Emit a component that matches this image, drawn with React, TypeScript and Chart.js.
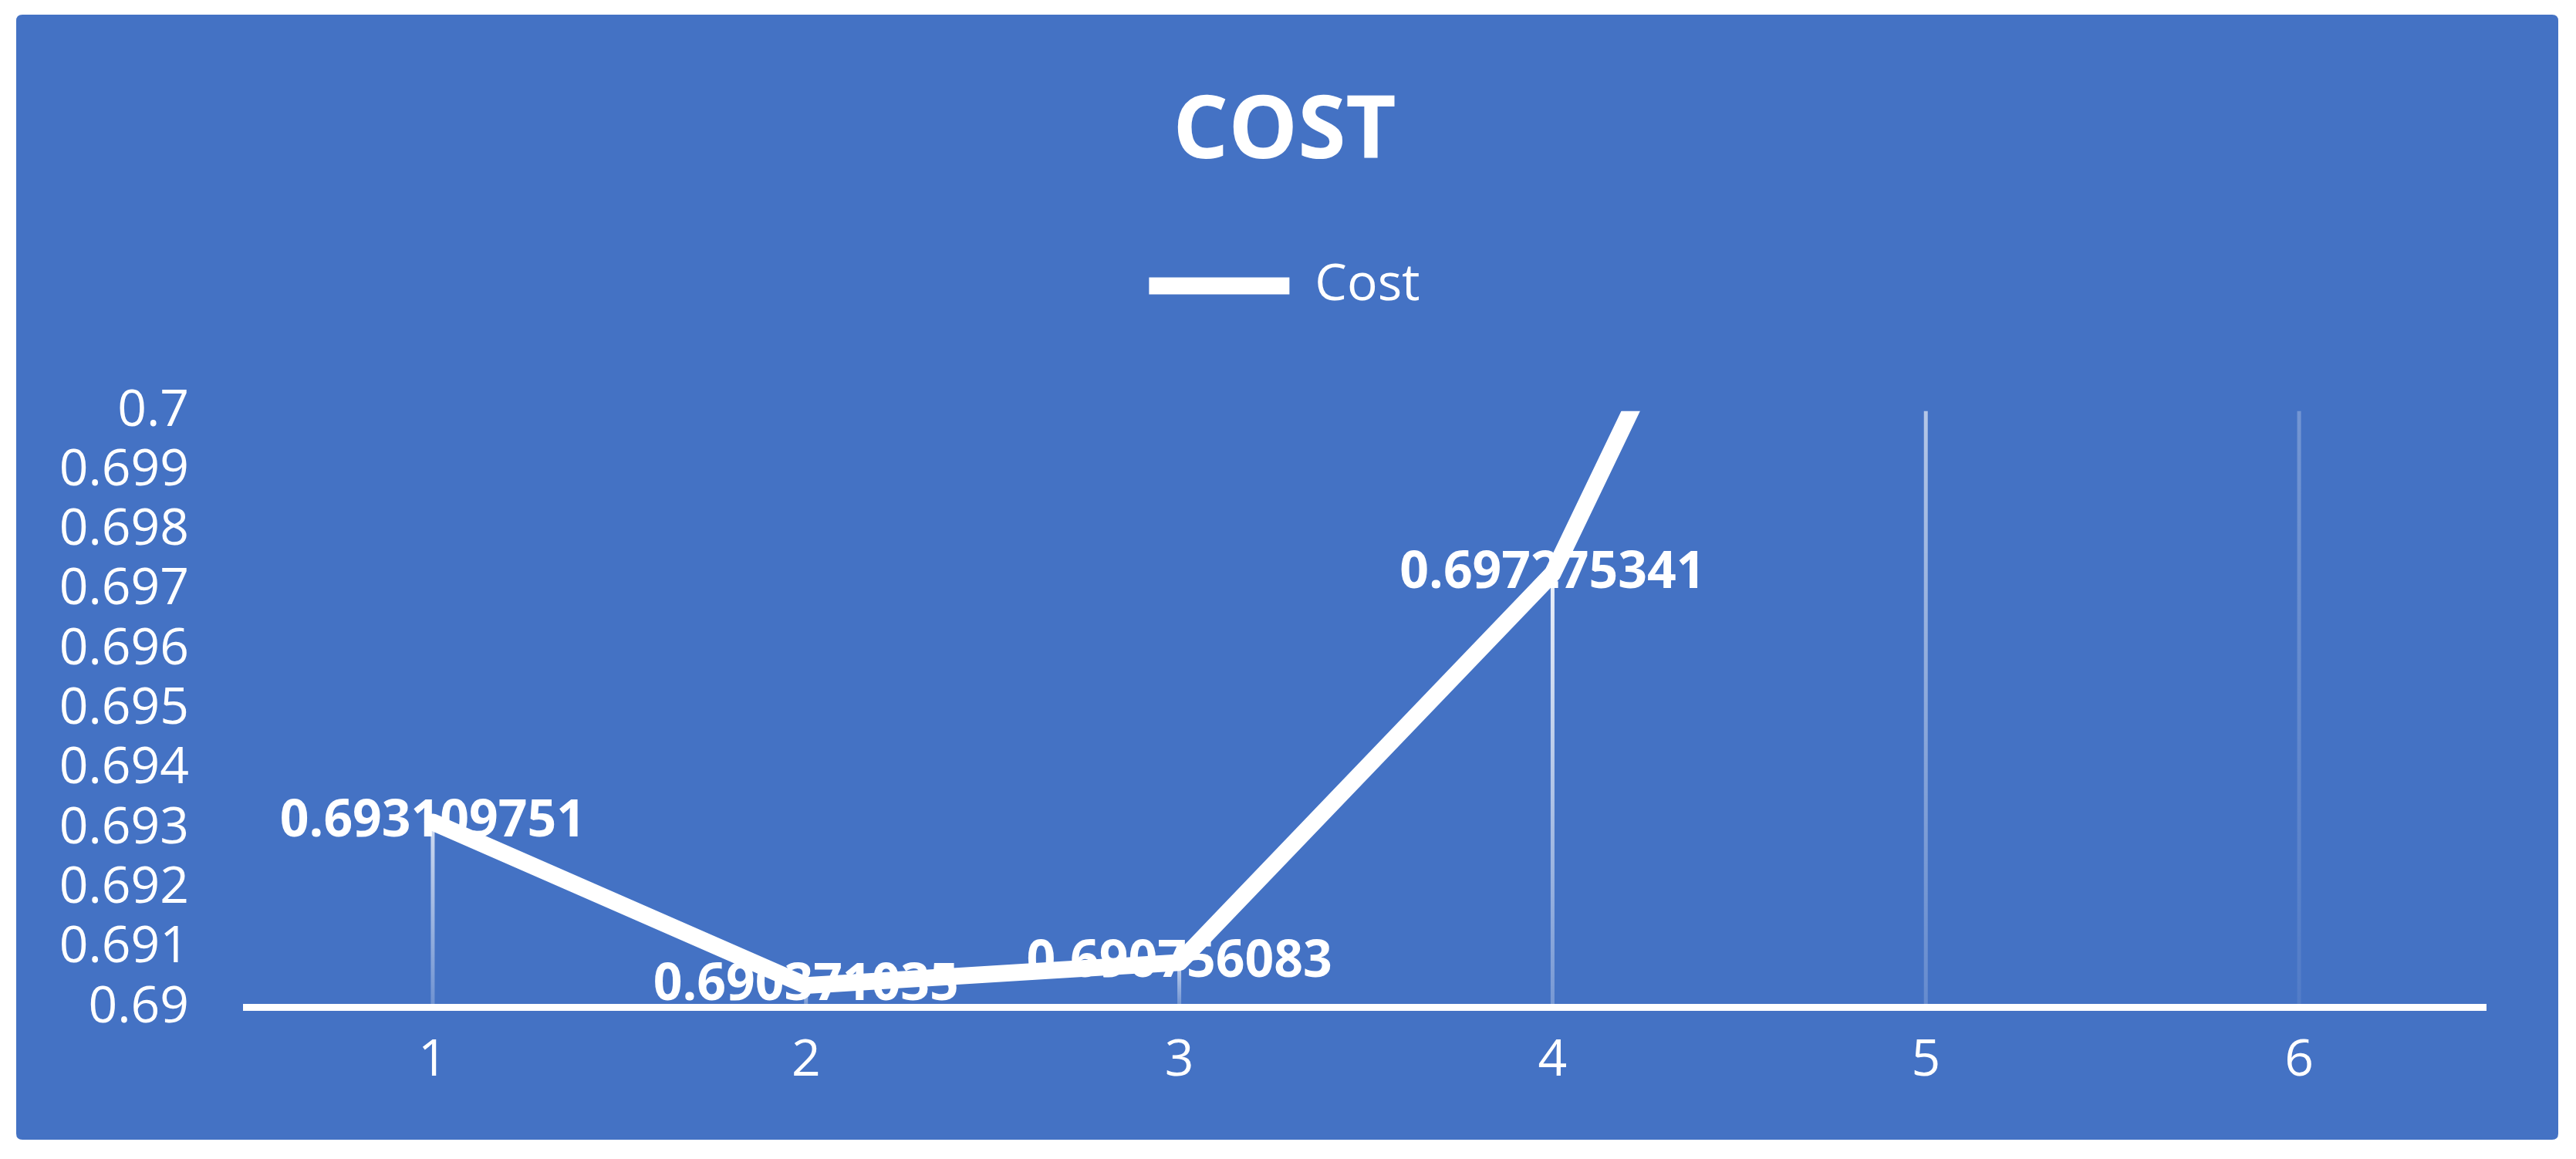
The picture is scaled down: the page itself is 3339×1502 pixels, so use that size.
import React, { useEffect, useRef } from "react";
import { Chart, registerables } from "chart.js";

Chart.register(...registerables);

// ---- data ----
const chartTitle = "COST";
const seriesName = "Cost";
const categories = ["1", "2", "3", "4", "5", "6"];
const costValues = [0.693109751, 0.690371035, 0.690756083, 0.697275341, 0.7103, 0.7205];
const costLabels = ["0.693109751", "0.690371035", "0.690756083", "0.697275341", "0.7103", "0.7205"];
const yTickValues = [0.69, 0.691, 0.692, 0.693, 0.694, 0.695, 0.696, 0.697, 0.698, 0.699, 0.7];
const yMin = 0.69;
const yMax = 0.7;

// ---- style ----
const W = 3339;
const H = 1502;
const FONT = "'Open Sans', 'Noto Sans', sans-serif";
const PANEL_COLOR = "#4472C4";
const dropAlpha = [0.75, 0.7, 0.7, 0.9, 0.6, 0.25];
const AXIS_LEFT = 319;
const PAD_RIGHT = 9;
const RIGHT_GUTTER = 108;

const panelPlugin = {
  id: "panelBg",
  beforeDraw(chart: any) {
    const ctx = chart.ctx;
    ctx.save();
    ctx.fillStyle = "#ffffff";
    ctx.fillRect(0, 0, chart.width, chart.height);
    const x = 21, y = 19, w = chart.width - 21 - 23, h = chart.height - 19 - 25, r = 8;
    ctx.fillStyle = PANEL_COLOR;
    ctx.beginPath();
    ctx.moveTo(x + r, y);
    ctx.lineTo(x + w - r, y);
    ctx.quadraticCurveTo(x + w, y, x + w, y + r);
    ctx.lineTo(x + w, y + h - r);
    ctx.quadraticCurveTo(x + w, y + h, x + w - r, y + h);
    ctx.lineTo(x + r, y + h);
    ctx.quadraticCurveTo(x, y + h, x, y + h - r);
    ctx.lineTo(x, y + r);
    ctx.quadraticCurveTo(x, y, x + r, y);
    ctx.closePath();
    ctx.fill();
    ctx.restore();
  },
};

const dropAndLabelPlugin = {
  id: "dropAndLabels",
  beforeDatasetsDraw(chart: any) {
    const ctx = chart.ctx;
    const area = chart.chartArea;
    const meta = chart.getDatasetMeta(0);
    ctx.save();
    // drop lines
    meta.data.forEach((pt: any, i: number) => {
      const top = Math.max(pt.y, area.top);
      const bottom = area.bottom;
      if (bottom - top < 1) return;
      const a = dropAlpha[i] ?? 0.6;
      const g = ctx.createLinearGradient(0, top, 0, bottom);
      g.addColorStop(0, `rgba(255,255,255,${a})`);
      g.addColorStop(1, `rgba(255,255,255,${a * 0.3})`);
      ctx.strokeStyle = g;
      ctx.lineWidth = 5;
      ctx.beginPath();
      ctx.moveTo(pt.x, top);
      ctx.lineTo(pt.x, bottom);
      ctx.stroke();
    });
    // data labels
    ctx.fillStyle = "#ffffff";
    ctx.font = `bold 66px ${FONT}`;
    ctx.textAlign = "center";
    ctx.textBaseline = "middle";
    meta.data.forEach((pt: any, i: number) => {
      const v = costValues[i];
      if (v > yMax || v < yMin) return;
      ctx.fillText(costLabels[i], pt.x, pt.y);
    });
    ctx.restore();
  },
};

export default function App() {
  const ref = useRef<HTMLCanvasElement | null>(null);

  useEffect(() => {
    document.body.style.margin = "0";
    document.body.style.overflow = "hidden";
    const canvas = ref.current;
    if (!canvas) return;
    const chart = new Chart(canvas, {
      type: "line",
      data: {
        labels: categories,
        datasets: [
          {
            label: seriesName,
            data: costValues,
            borderColor: "#ffffff",
            backgroundColor: "#ffffff",
            borderWidth: 22,
            borderCapStyle: "round",
            borderJoinStyle: "round",
            pointRadius: 0,
            pointHoverRadius: 0,
            tension: 0,
            fill: false,
            clip: 0,
            yAxisID: "y",
          } as any,
        ],
      },
      options: {
        responsive: false,
        animation: false,
        devicePixelRatio: 1,
        events: [],
        layout: { padding: { left: 0, right: PAD_RIGHT, top: 0, bottom: 57 } },
        plugins: {
          title: {
            display: true,
            text: chartTitle,
            color: "#ffffff",
            font: { family: FONT, size: 113, weight: "bold", lineHeight: 1.2 },
            padding: { top: 105, bottom: 87 },
          },
          subtitle: {
            display: true,
            text: "",
            weight: 500,
            font: { size: 1, lineHeight: 1.2 },
            padding: { top: 118, bottom: 0 },
          } as any,
          legend: {
            display: true,
            position: "top",
            labels: {
              color: "#ffffff",
              font: { family: FONT, size: 66 },
              usePointStyle: true,
              pointStyle: "line",
              pointStyleWidth: 182,
              padding: 10,
            },
          },
          tooltip: { enabled: false },
        },
        scales: {
          x: {
            type: "category",
            offset: true,
            grid: { display: false, drawTicks: false },
            border: { display: true, color: "#ffffff", width: 9 },
            ticks: { color: "#ffffff", font: { family: FONT, size: 66 }, padding: 30 },
          },
          y: {
            position: "left",
            min: yMin,
            max: yMax,
            afterBuildTicks: (scale: any) => {
              scale.ticks = yTickValues.map((v) => ({ value: v }));
            },
            afterFit: (scale: any) => {
              scale.width = AXIS_LEFT;
            },
            grid: { display: false, drawTicks: false },
            border: { display: false },
            ticks: {
              color: "#ffffff",
              font: { family: FONT, size: 66 },
              padding: 74,
              autoSkip: false,
              callback: (v: any) => String(parseFloat(Number(v).toFixed(3))),
            },
          },
          yRightGutter: {
            type: "linear",
            position: "right",
            min: yMin,
            max: yMax,
            afterFit: (scale: any) => {
              scale.width = RIGHT_GUTTER;
            },
            grid: { display: false, drawTicks: false },
            border: { display: false },
            ticks: { display: false },
          },
        },
      } as any,
      plugins: [panelPlugin, dropAndLabelPlugin],
    });
    return () => chart.destroy();
  }, []);

  return (
    <div style={{ width: W, height: H }}>
      <canvas ref={ref} width={W} height={H} style={{ display: "block", width: W, height: H }} />
    </div>
  );
}
